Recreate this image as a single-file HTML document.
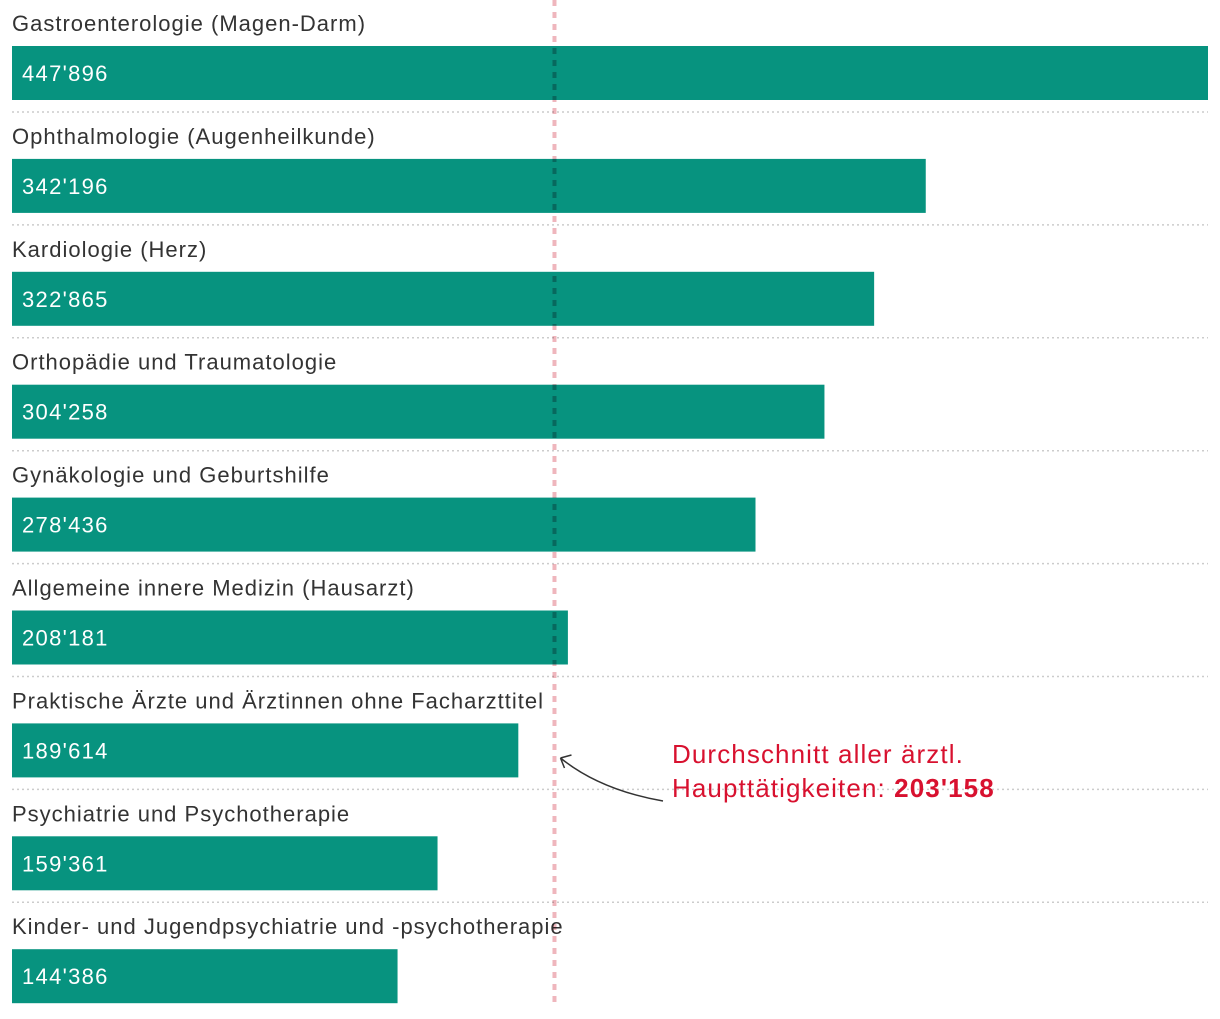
<!DOCTYPE html>
<html><head><meta charset="utf-8"><style>
body{margin:0;background:#fff;width:1220px;height:1014px;overflow:hidden;font-family:"Liberation Sans",sans-serif}
svg text{font-family:"Liberation Sans",sans-serif}
</style></head><body>
<svg id="chart" width="1220" height="1014" xmlns="http://www.w3.org/2000/svg">
<g id="rows"></g>
<g id="avg"></g>
</svg>
<script>
const categories=["Gastroenterologie (Magen-Darm)","Ophthalmologie (Augenheilkunde)","Kardiologie (Herz)","Orthopädie und Traumatologie","Gynäkologie und Geburtshilfe","Allgemeine innere Medizin (Hausarzt)","Praktische Ärzte und Ärztinnen ohne Facharzttitel","Psychiatrie und Psychotherapie","Kinder- und Jugendpsychiatrie und -psychotherapie"];
const values=[447896,342196,322865,304258,278436,208181,189614,159361,144386];
const valueLabels=["447'896","342'196","322'865","304'258","278'436","208'181","189'614","159'361","144'386"];
const average=203158;
const averageLabel="203'158";
const NS="http://www.w3.org/2000/svg";
const x0=12,x1=1208,maxV=Math.max(...values);
const xs=v=>x0+(v/maxV)*(x1-x0);
const rowY=i=>46+i*112.9;
function mk(t,a,p){const e=document.createElementNS(NS,t);for(const k in a)e.setAttribute(k,a[k]);p.appendChild(e);return e;}
const rows=document.getElementById('rows');
values.forEach((v,i)=>{
  const y=rowY(i);
  const lab=mk('text',{x:12,y:y-15,'font-size':22,'letter-spacing':1,fill:'#333'},rows);lab.textContent=categories[i];
  
  
  const b=mk('rect',{x:x0,y:y,width:xs(v)-x0,height:54,fill:'#07937f'},rows);
  
  
  const t=mk('text',{x:22,y:y+35,'font-size':22,'letter-spacing':1.3,fill:'#fff'},rows);t.textContent=valueLabels[i];
  
  
  if(i<values.length-1){
    const s=mk('line',{x1:12,x2:1208,y1:y+66,y2:y+66,stroke:'#ccc','stroke-width':1.5,'stroke-dasharray':'2 3'},rows);
    
    
  }
});
const g=document.getElementById('avg');
const ax=xs(average);
const l=mk('line',{x1:ax,x2:ax,y1:0,y2:1006,stroke:'#eba4ad','stroke-opacity':0.8,'stroke-width':4,'stroke-dasharray':'6 6',style:'mix-blend-mode:multiply'},g);


const ar=mk('path',{d:`M663 801 Q600 790 ${ax+6} 758 M${ax+6} 758 l11 -3 M${ax+6} 758 l4 10`,fill:'none',stroke:'#333','stroke-width':1.5},g);


const a1=mk('text',{x:672,y:763,'font-size':26,'letter-spacing':1.1,fill:'#d8112f'},g);a1.textContent='Durchschnitt aller ärztl.';


const a2=mk('text',{x:672,y:797,'font-size':26,'letter-spacing':1.1,fill:'#d8112f'},g);


a2.appendChild(document.createTextNode('Haupttätigkeiten: '));
const ts=mk('tspan',{'font-weight':'bold'},a2);ts.textContent=averageLabel;
</script>
</body></html>
